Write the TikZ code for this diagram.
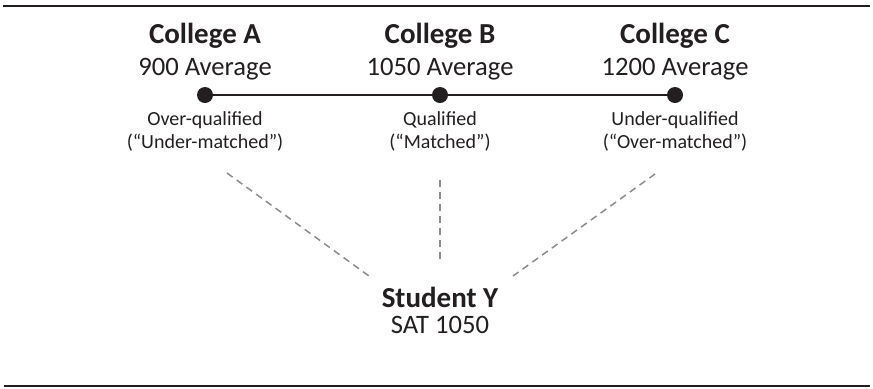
\documentclass[tikz,border=0pt]{standalone}
\usepackage{fontspec}
\setmainfont{Carlito}
\usetikzlibrary{positioning}
\definecolor{ink}{HTML}{231F20}
\tikzset{node distance=2cm, auto,
  dot/.style={circle, fill=ink, inner sep=0pt, minimum size=8pt},
  title/.style={font=\fontsize{14.5}{17}\selectfont\bfseries, text=ink},
  avg/.style={font=\fontsize{13.3}{16}\selectfont, text=ink},
  fitlabel/.style={font=\fontsize{10}{11.5}\selectfont, align=center, text=ink},
  link/.style={draw=black!45, line width=0.75pt, dash pattern=on 3.5pt off 2.5pt},
  rule/.style={draw=ink, line width=1.2pt}}

\begin{document}
\begin{tikzpicture}[x=0.5pt, y=-0.5pt]
  \useasboundingbox (0,0) rectangle (873,388);
  \draw[rule] (3,6) -- (870,6);
  \draw[rule] (4,386) -- (870,386);

  \node[dot] (A) at (205,95) {};
  \node[dot] (B) at (440,95) {};
  \node[dot] (C) at (675,95) {};
  \draw[ink, line width=1pt] (A) -- (B) -- (C);

  \node[title] (tA) at (205,36) {College A};
  \node[title] (tB) at (440,36) {College B};
  \node[title] (tC) at (675,36) {College C};
  \node[avg] (vA) at (205,69) {900 Average};
  \node[avg] (vB) at (440,69) {1050 Average};
  \node[avg] (vC) at (675,69) {1200 Average};

  \node[fitlabel] (mA) at (205,131) {Over-qualified\\(“Under-matched”)};
  \node[fitlabel] (mB) at (440,131) {Qualified\\(“Matched”)};
  \node[fitlabel] (mC) at (675,131) {Under-qualified\\(“Over-matched”)};

  \node[title] (S) at (440,297) {Student Y};
  \node[avg] (SAT) at (440,325) {SAT 1050};

  \coordinate (a1) at (227,173);
  \coordinate (a2) at (369,276);
  \coordinate (b1) at (440,180);
  \coordinate (b2) at (440,264);
  \coordinate (c1) at (655,174);
  \coordinate (c2) at (513,276);
  \draw[link] (a1) -- (a2);
  \draw[link] (b1) -- (b2);
  \draw[link] (c1) -- (c2);
\end{tikzpicture}
\end{document}
